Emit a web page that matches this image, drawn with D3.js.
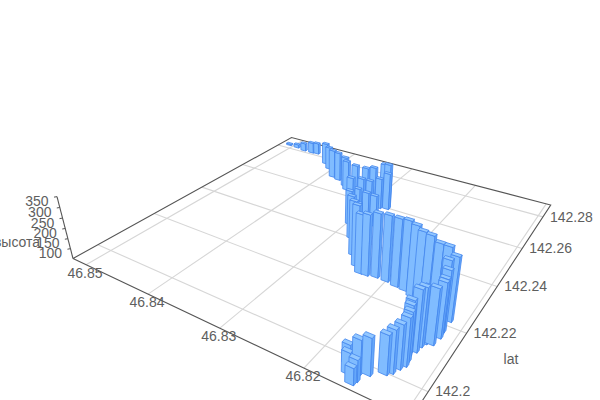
<!DOCTYPE html><html><head><meta charset="utf-8"><style>html,body{margin:0;background:#fff}svg{display:block}text{font-family:"Liberation Sans",Arial,sans-serif;font-size:14px;fill:#5e5e5e}</style></head><body><script src="https://cdn.jsdelivr.net/npm/d3@7"></script><svg id="s" width="600" height="400"></svg><script>
const lons=[46.8508,46.8492,46.8476,46.8461,46.8452,46.8420,46.8406,46.8387,46.8375,46.8357,46.8349,46.8334,46.8316,46.8302,46.8285,46.8277,46.8276,46.8286,46.8299,46.8303,46.8300,46.8294,46.8281,46.8269,46.8281,46.8297,46.8278,46.8257,46.8243,46.8233,46.8225,46.8214,46.8201,46.8188,46.8177,46.8166,46.8157,46.8147,46.8135,46.8126,46.8117,46.8120,46.8117,46.8117,46.8116,46.8118,46.8124,46.8126,46.8127,46.8131,46.8130,46.8128,46.8127,46.8130,46.8133,46.8137,46.8149,46.8157,46.8171,46.8165,46.8155,46.8156];
const lats=[142.2827,142.2824,142.2816,142.2816,142.2819,142.2766,142.2738,142.2693,142.2684,142.2659,142.2639,142.2636,142.2630,142.2620,142.2615,142.2604,142.2598,142.2591,142.2586,142.2552,142.2479,142.2495,142.2494,142.2491,142.2447,142.2463,142.2401,142.2332,142.2293,142.2271,142.2272,142.2278,142.2277,142.2271,142.2268,142.2256,142.2247,142.2240,142.2227,142.2227,142.2220,142.2194,142.2179,142.2168,142.2157,142.2129,142.2124,142.2110,142.2090,142.2077,142.2068,142.2056,142.2041,142.2027,142.2009,142.1999,142.1979,142.1971,142.1984,142.1960,142.1951,142.1940];
const heights=[58,70,95,111,114,170,177,204,206,212,211,204,211,234,270,284,242,210,189,220,278,217,211,210,193,226,266,317,344,332,340,353,360,366,373,375,368,370,363,362,340,346,324,298,297,299,296,311,322,285,276,267,262,245,240,223,215,202,139,147,147,125];
const lonTicks=[46.85,46.84,46.83,46.82,46.81];
const latTicks=[142.2,142.22,142.24,142.26,142.28];
const zTicks=[100,150,200,250,300,350];
const lonLabels=["46.85","46.84","46.83","46.82"];
const latLabels=["142.2","142.22","142.24","142.26","142.28"];

const L=[73,258.5],F=[410.5,418.7],R=[550.7,205],B=[291.5,137.5],VP=[327,1240],kz=-.0593;
const sx=L[0]-F[0]+R[0]-B[0],sy=L[1]-F[1]+R[1]-B[1],dx1=F[0]-R[0],dx2=B[0]-R[0],dy1=F[1]-R[1],dy2=B[1]-R[1],den=dx1*dy2-dx2*dy1;
const g=(sx*dy2-dx2*sy)/den,h=(dx1*sy-sx*dy1)/den;
const a=F[0]-L[0]+g*F[0],b=B[0]-L[0]+h*B[0],d=F[1]-L[1]+g*F[1],e=B[1]-L[1]+h*B[1];
const U=d3.scaleLinear().domain([46.8523,46.8094]).range([0,1]);
const V=d3.scaleLinear().domain([142.1922,142.2885]).range([0,1]);
const Z=d3.scaleLinear().domain([50,350]).range([0,1]);
function proj(u,v,z){const t=kz*z,w=g*u+h*v+1+t;return [(a*u+b*v+L[0]+t*VP[0])/w,(d*u+e*v+L[1]+t*VP[1])/w];}
const svg=d3.select("#s"),line=d3.line();
const DARK="#555",GRID="#d6d6d6";
const gGrid=svg.append("g").attr("fill","none").attr("stroke",GRID).attr("stroke-width",1.1);
gGrid.selectAll(".lo").data(lonTicks).join("path").attr("class","lo").attr("d",t=>line([proj(U(t),0,0),proj(U(t),1,0)]));
gGrid.selectAll(".la").data(latTicks).join("path").attr("class","la").attr("d",t=>line([proj(0,V(t),0),proj(1,V(t),0)]));
svg.append("path").attr("fill","none").attr("stroke",DARK).attr("stroke-width",1.1).attr("d",line([[0,0],[0,1],[1,1],[1,0],[0,0]].map(c=>proj(c[0],c[1],0))));
svg.append("path").attr("fill","none").attr("stroke",DARK).attr("stroke-width",1.1).attr("d",line([proj(0,0,0),proj(0,0,1)]));
svg.selectAll(".zt").data(zTicks).join("path").attr("class","zt").attr("fill","none").attr("stroke",DARK).attr("d",t=>{const p=proj(0,0,Z(t));return line([p,[p[0]-3,p[1]+.5]]);});
const du=.021,dv=.011;
const bars=lons.map((o,i)=>({u:U(o),v:V(lats[i]),z:Z(heights[i])}));
bars.sort((p,q)=>(h*q.v+g*q.u)-(h*p.v+g*p.u));
const gb=svg.append("g").attr("stroke","#4487ee").attr("stroke-width",.8).attr("stroke-linejoin","round");
const sel=gb.selectAll("g").data(bars).join("g");
function face(pts){return line(pts)+"Z";}
sel.append("path").attr("fill","#80bcff").attr("d",q=>{const u1=q.u-du/2,u2=q.u+du/2,v1=q.v-dv/2;return face([proj(u1,v1,0),proj(u2,v1,0),proj(u2,v1,q.z),proj(u1,v1,q.z)]);});
sel.append("path").attr("fill","#66a8fa").attr("d",q=>{const u2=q.u+du/2,v1=q.v-dv/2,v2=q.v+dv/2;return face([proj(u2,v1,0),proj(u2,v2,0),proj(u2,v2,q.z),proj(u2,v1,q.z)]);});
sel.append("path").attr("fill","#93c8ff").attr("d",q=>{const u1=q.u-du/2,u2=q.u+du/2,v1=q.v-dv/2,v2=q.v+dv/2;return face([proj(u1,v1,q.z),proj(u2,v1,q.z),proj(u2,v2,q.z),proj(u1,v2,q.z)]);});
svg.selectAll(".lol").data(lonLabels).join("text").attr("class","lol").attr("text-anchor","middle").attr("dominant-baseline","middle").attr("x",(t,i)=>proj(U(lonTicks[i]),0,0)[0]-1).attr("y",(t,i)=>proj(U(lonTicks[i]),0,0)[1]+9.5).text(t=>t);
svg.selectAll(".lal").data(latLabels).join("text").attr("class","lal").attr("dominant-baseline","middle").attr("x",(t,i)=>proj(1,V(latTicks[i]),0)[0]+7).attr("y",(t,i)=>proj(1,V(latTicks[i]),0)[1]+1).text(t=>t);
svg.selectAll(".zl").data(zTicks).join("text").attr("class","zl").attr("text-anchor","middle").attr("dominant-baseline","middle").attr("x",t=>proj(0,0,Z(t))[0]-20).attr("y",t=>proj(0,0,Z(t))[1]+6).text(t=>t);
svg.append("text").attr("x",17).attr("y",243).attr("text-anchor","middle").attr("dominant-baseline","middle").text("высота");
svg.append("text").attr("x",511).attr("y",360).attr("text-anchor","middle").attr("dominant-baseline","middle").text("lat");
</script></body></html>
